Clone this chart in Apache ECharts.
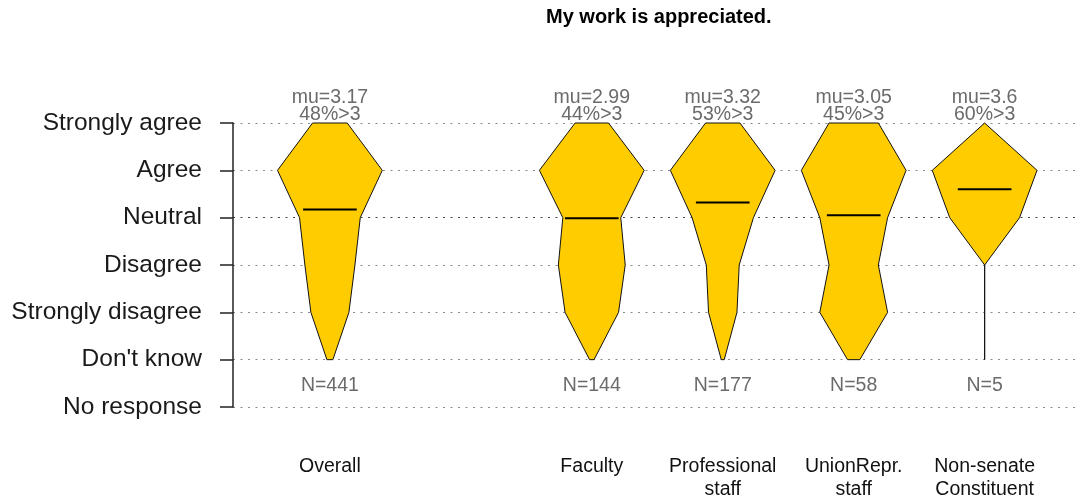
<!DOCTYPE html>
<html>
<head>
<meta charset="utf-8">
<script src="https://cdn.jsdelivr.net/npm/echarts@6/dist/echarts.min.js"></script>
<style>
  html, body { margin: 0; padding: 0; background: #fff; }
  #chart { width: 1075px; height: 501px; }
</style>
</head>
<body>
<div id="chart"></div>
<script>
// groups along the x axis; the empty one is the gap after "Overall"
const categories = ['Overall', '', 'Faculty', 'Professional\nstaff', 'UnionRepr.\nstaff', 'Non-senate\nConstituent'];
// y axis, bottom to top
const levels = ['No response', "Don't know", 'Strongly disagree', 'Disagree', 'Neutral', 'Agree', 'Strongly agree'];

// response counts per group
const stronglyAgree    = [52,  null, 15, 23, 8,  0];
const agree            = [157, null, 47, 70, 17, 3];
const neutral          = [91,  null, 26, 41, 11, 2];
const disagree         = [75,  null, 30, 22, 8,  0];
const stronglyDisagree = [57,  null, 24, 19, 11, 0];
const dontKnow         = [9,   null, 2,  2,  2,  0];

const muVals    = [3.17, null, 2.99, 3.32, 3.05, 3.6];
const pctAbove3 = [48,   null, 44,   53,   45,   60];
const nVals     = [441,  null, 144,  177,  58,   5];

const FONT = '"Liberation Sans", Arial, Helvetica, sans-serif';
const GREY = '#6b6b6b';

const chart = echarts.init(document.getElementById('chart'));

function renderGroup(params, api) {
  const idx = api.value(1);
  const x = api.value(0);
  // counts from Strongly agree (6) down to Don't know (1)
  const counts = [stronglyAgree[idx], agree[idx], neutral[idx], disagree[idx], stronglyDisagree[idx], dontKnow[idx]];
  const maxC = Math.max.apply(null, counts);
  const right = [], left = [];
  counts.forEach((c, k) => {
    const lvl = 6 - k;
    const hw = 0.4 * c / maxC;
    right.push(api.coord([x + hw, lvl]));
    left.unshift(api.coord([x - hw, lvl]));
  });
  const mu = muVals[idx];
  const m0 = api.coord([x - 0.205, mu + 1]);
  const m1 = api.coord([x + 0.205, mu + 1]);
  const top = api.coord([x, 6]);
  const nPos = api.coord([x, 0.5]);
  const bottom = api.coord([x, 0]);
  const textStyle = (text, px, py, color, size) => ({
    type: 'text',
    style: {
      text: text, x: px, y: py, fill: color,
      font: size + 'px ' + FONT,
      align: 'center', verticalAlign: 'middle'
    }
  });
  return {
    type: 'group',
    children: [
      {
        type: 'polygon',
        shape: { points: right.concat(left) },
        style: { fill: '#FFCC00', stroke: '#111', lineWidth: 1 }
      },
      {
        type: 'line',
        shape: { x1: m0[0], y1: m0[1], x2: m1[0], y2: m1[1] },
        style: { stroke: '#000', lineWidth: 2 }
      },
      textStyle('mu=' + mu, top[0], top[1] - 25, GREY, 19.5),
      textStyle(pctAbove3[idx] + '%>3', top[0], top[1] - 8, GREY, 19.5),
      textStyle('N=' + nVals[idx], nPos[0], nPos[1] + 2, GREY, 19.5),
      {
        type: 'text',
        style: {
          text: categories[idx], x: bottom[0], y: bottom[1] + 48,
          fill: '#111', font: '19.5px ' + FONT, lineHeight: 23,
          align: 'center', verticalAlign: 'top'
        }
      }
    ]
  };
}

const gridColors = levels.map((l) => (l === 'Neutral' ? '#444' : '#8a8a8a'));

chart.setOption({
  animation: false,
  title: {
    text: 'My work is appreciated.',
    left: 546,
    top: 7,
    padding: 0,
    textStyle: { fontFamily: FONT, fontWeight: 'bold', fontSize: 20, color: '#000' }
  },
  grid: { left: 233, right: 0, top: 123, bottom: 94 },
  xAxis: { type: 'value', min: 0.26, max: 6.69, show: false },
  yAxis: {
    type: 'value',
    min: 0,
    max: 6,
    interval: 1,
    axisLine: { show: true, lineStyle: { color: '#222', width: 1.5 } },
    axisTick: { show: true, length: 13, lineStyle: { color: '#222', width: 1.5 } },
    axisLabel: {
      formatter: (v) => levels[v],
      fontFamily: FONT,
      fontSize: 24.5,
      color: '#1a1a1a',
      margin: 31,
      padding: [4, 0, 0, 0]
    },
    splitLine: { show: true, lineStyle: { color: gridColors, type: [2, 5.5], width: 1.2 } }
  },
  series: [{
    type: 'custom',
    clip: false,
    renderItem: renderGroup,
    data: categories.map((c, i) => [i + 1, i]).filter((d) => muVals[d[1]] !== null)
  }]
});
</script>
</body>
</html>
